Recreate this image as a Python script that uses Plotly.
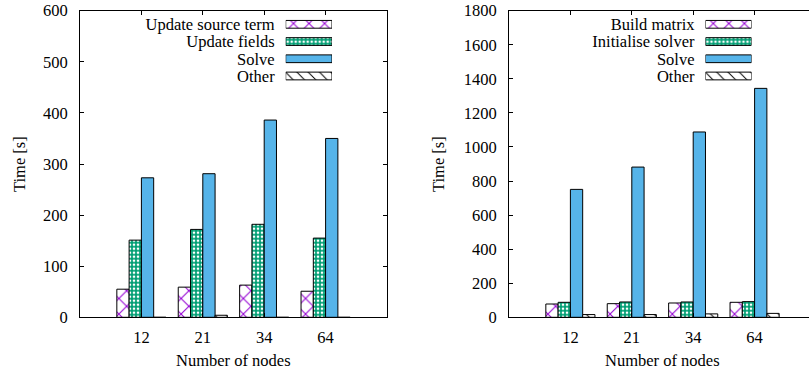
import plotly.graph_objects as go

# ---- data -------------------------------------------------------------
nodes = ["12", "21", "34", "64"]

# left panel: time-stepping breakdown
left_series = ["Update source term", "Update fields", "Solve", "Other"]
update_source = [55, 59, 63, 51]
update_fields = [151, 172, 182, 155]
solve_left = [273, 281, 386, 350]
other_left = [0, 4, 0, 0]

# right panel: solver breakdown
right_series = ["Build matrix", "Initialise solver", "Solve", "Other"]
build_matrix = [78, 80, 84, 88]
init_solver = [88, 90, 90, 92]
solve_right = [751, 882, 1088, 1344]
other_right = [16, 16, 20, 23]

# ---- styles -------------------------------------------------------------
W, H = 809, 374
FONT = "Liberation Serif"
FS = 16.5
PURPLE = "#9400d3"
GREEN = "#009e73"
BLUE = "#56b4e9"

styles = [
    dict(shape="x", fg=PURPLE, bg="white", size=11, solidity=0.18),
    dict(shape=".", fg="white", bg=GREEN, size=4, solidity=0.35),
    dict(shape="", fg=BLUE, bg=BLUE, size=8, solidity=0.3),
    dict(shape="\\", fg="black", bg="white", size=8, solidity=0.12),
]


def px(v):
    return v / W


def py(v):
    return (H - v) / H


def marker_for(st):
    return dict(
        color=st["bg"],
        line=dict(color="black", width=1),
        pattern=dict(shape=st["shape"], fgcolor=st["fg"], bgcolor=st["bg"],
                     size=st["size"], solidity=st["solidity"], fillmode="replace"),
    )


xpos = list(range(len(nodes)))
fig = go.Figure()


def add_panel(values, xa, ya):
    for vals, st in zip(values, styles):
        fig.add_trace(go.Bar(x=xpos, y=vals, xaxis=xa, yaxis=ya,
                             showlegend=False, marker=marker_for(st)))


add_panel([update_source, update_fields, solve_left, other_left], "x", "y")
add_panel([build_matrix, init_solver, solve_right, other_right], "x2", "y2")


# legend keys drawn as horizontal bars on small helper axes
def add_key(names, xa, ya, group):
    for i, st in enumerate(styles):
        fig.add_trace(go.Bar(
            y=[i], x=[1], base=0, orientation="h", width=0.45,
            offsetgroup=group, alignmentgroup=group,
            xaxis=xa, yaxis=ya, showlegend=False, hoverinfo="skip",
            marker=marker_for(st),
        ))


add_key(left_series, "x3", "y3", "keyL")
add_key(right_series, "x4", "y4", "keyR")

ydom = [py(317.3), py(10.7)]
tickfont = dict(family=FONT, size=FS, color="black")

common_x = dict(
    tickvals=xpos, ticktext=nodes, showgrid=False, zeroline=False,
    showline=True, linecolor="black", linewidth=1, ticks="inside", ticklen=4,
    tickcolor="black", tickfont=tickfont, ticklabelstandoff=5, automargin=False,
)
common_y = dict(
    showgrid=False, zeroline=False, showline=True, linecolor="black", linewidth=1,
    ticks="inside", ticklen=4, tickcolor="black", tickfont=tickfont,
    ticklabelstandoff=8, automargin=False,
)

key_rows = [py(84.6), py(15.7)]
key_y = dict(range=[3.5, -0.5], showgrid=False, zeroline=False, showline=False,
             ticks="", tickfont=tickfont, ticklabelstandoff=10, fixedrange=True,
             automargin=False)
key_x = dict(range=[0, 1], visible=False, fixedrange=True, automargin=False)


def label(text, x, y, angle=0):
    return dict(text=text, x=px(x), y=py(y), xref="paper", yref="paper",
                xanchor="center", yanchor="middle", textangle=angle,
                showarrow=False, font=tickfont)


fig.update_layout(
    width=W, height=H,
    margin=dict(l=0, r=0, t=0, b=0, autoexpand=False),
    paper_bgcolor="white", plot_bgcolor="white",
    barmode="group", bargap=0.2, bargroupgap=0,
    font=dict(family=FONT, size=FS, color="black"),
    xaxis=dict(domain=[px(80), px(387)], anchor="y", range=[-1, 4],
               mirror="allticks", **common_x),
    yaxis=dict(domain=ydom, anchor="x", range=[0, 600], dtick=100,
               mirror="allticks", **common_y),
    xaxis2=dict(domain=[px(509), 1.0], anchor="y2", range=[-1, -1 + 300 / 61.4],
                mirror="allticks", **common_x),
    yaxis2=dict(domain=ydom, anchor="x2", range=[0, 1800], dtick=200,
                mirror=False, **common_y),
    xaxis3=dict(domain=[px(285.7), px(332)], anchor="y3", **key_x),
    yaxis3=dict(domain=key_rows, anchor="x3", tickvals=[0, 1, 2, 3],
                ticktext=left_series, **key_y),
    xaxis4=dict(domain=[px(705.5), px(751.5)], anchor="y4", **key_x),
    yaxis4=dict(domain=key_rows, anchor="x4", tickvals=[0, 1, 2, 3],
                ticktext=right_series, **key_y),
    annotations=[
        label("Time [s]", 19, 164, -90),
        label("Time [s]", 438, 164, -90),
        label("Number of nodes", 233.5, 360),
        label("Number of nodes", 662, 360),
    ],
)

fig.write_html("out.html")
